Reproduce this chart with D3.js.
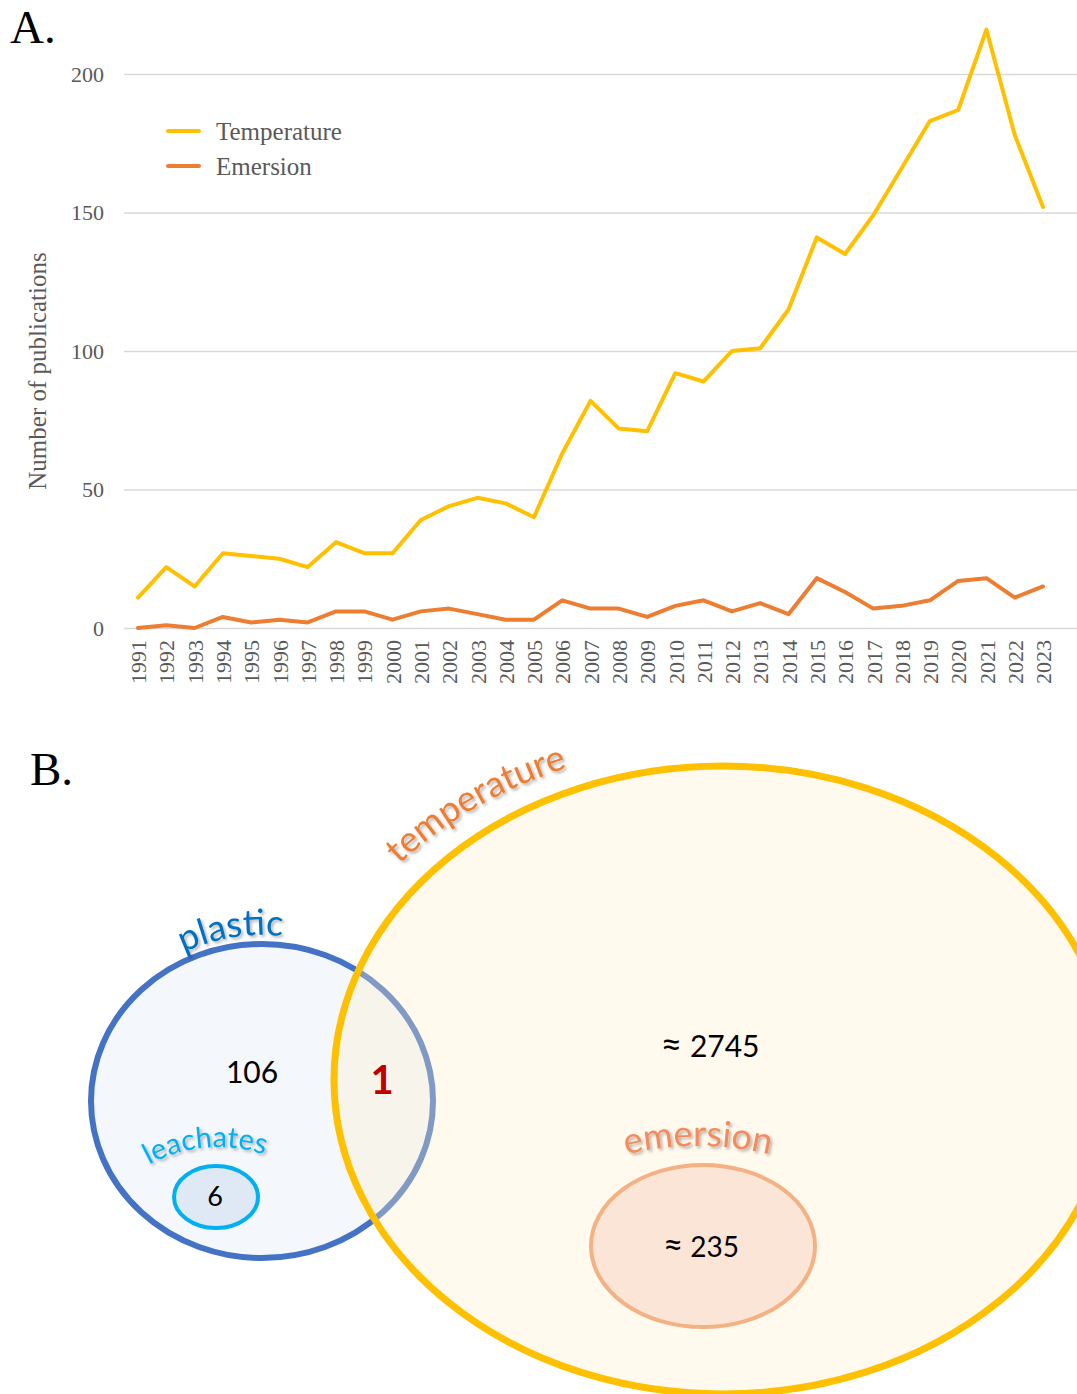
<!DOCTYPE html>
<meta charset="utf-8">
<head>
  <title>Publications and Venn</title>
</head>

<style>
body {
  margin: 0;
  background: #fff;
}
.axis text {
  font-family: "Liberation Serif", "Times New Roman", serif;
  fill: #595959;
}
.venn-num {
  font-family: Lato, "Open Sans", sans-serif;
}
</style>

<body>
  <div id="content"></div>

  <script src="https://cdnjs.cloudflare.com/ajax/libs/d3/7.8.5/d3.min.js"></script>

  <script>
var years = d3.range(1991, 2024);
var temperature = [11, 22, 15, 27, 26, 25, 22, 31, 27, 27, 39, 44, 47, 45, 40,
  63, 82, 72, 71, 92, 89, 100, 101, 115, 141, 135, 149, 166, 183, 187, 216, 178, 152];
var emersion = [0, 1, 0, 4, 2, 3, 2, 6, 6, 3, 6, 7, 5, 3, 3,
  10, 7, 7, 4, 8, 10, 6, 9, 5, 18, 13, 7, 8, 10, 17, 18, 11, 15];
var yTicks = [0, 50, 100, 150, 200];
var seriesNames = ['Temperature', 'Emersion'];
var seriesColors = ['#FFC000', '#ED7D31'];

// Venn panel
var vennSets = ['plastic', 'leachates', 'temperature', 'emersion'];
var vennCounts = ['106', '6', '2745', '235'];
var vennApprox = [false, false, true, true];
var vennOverlap = '1';

var width = 1077, height = 1394;

var svg = d3.select('#content').append('svg')
  .attr('width', width)
  .attr('height', height);

var defs = svg.append('defs');
var shadow = defs.append('filter').attr('id', 'shadow')
  .attr('x', '-20%').attr('y', '-40%').attr('width', '140%').attr('height', '180%');
shadow.append('feDropShadow')
  .attr('dx', 2).attr('dy', 2).attr('stdDeviation', 1.6)
  .attr('flood-color', '#000').attr('flood-opacity', 0.3);

// ---------- A. line chart ----------
var x = d3.scalePoint().domain(years).range([138, 1043]);
var y = d3.scaleLinear().domain([0, 200]).range([628, 74]);

svg.append('text')
  .attr('x', 10).attr('y', 43)
  .style('font-family', '"Liberation Serif", serif')
  .style('font-size', '47px')
  .text('A.');

var yAxis = svg.append('g')
  .attr('class', 'axis')
  .attr('transform', 'translate(124,0)')
  .call(d3.axisLeft(y).tickValues(yTicks).tickSize(-(width - 124)).tickPadding(20));
yAxis.select('.domain').remove();
yAxis.selectAll('line').attr('stroke', '#D9D9D9').attr('stroke-width', 1.5);
yAxis.selectAll('text').style('font-size', '22px');

var xAxis = svg.append('g')
  .attr('class', 'axis')
  .attr('transform', 'translate(0,628)')
  .call(d3.axisBottom(x).tickSize(0).tickFormat(d3.format('d')));
xAxis.select('.domain').remove();
xAxis.selectAll('text')
  .style('font-size', '22px')
  .attr('text-anchor', 'end')
  .attr('transform', 'rotate(-90)')
  .attr('x', -12)
  .attr('y', 0)
  .attr('dy', '0.35em');

svg.append('text')
  .attr('class', 'axis')
  .attr('transform', 'translate(37,371) rotate(-90)')
  .attr('text-anchor', 'middle')
  .attr('dy', '0.35em')
  .style('font-family', '"Liberation Serif", serif')
  .style('font-size', '25px')
  .style('fill', '#595959')
  .text('Number of publications');

var line = d3.line()
  .x(function(d, i) { return x(years[i]); })
  .y(function(d) { return y(d); });

[temperature, emersion].forEach(function(s, k) {
  svg.append('path')
    .datum(s)
    .attr('fill', 'none')
    .attr('stroke', seriesColors[k])
    .attr('stroke-width', 4)
    .attr('stroke-linejoin', 'round')
    .attr('stroke-linecap', 'round')
    .attr('d', line);
});

var legend = svg.append('g');
seriesNames.forEach(function(n, k) {
  var ly = 131 + k * 35;
  legend.append('line')
    .attr('x1', 168).attr('x2', 199)
    .attr('y1', ly).attr('y2', ly)
    .attr('stroke', seriesColors[k])
    .attr('stroke-width', 4)
    .attr('stroke-linecap', 'round');
  legend.append('text')
    .attr('x', 216).attr('y', ly)
    .attr('dy', '0.35em')
    .style('font-family', '"Liberation Serif", serif')
    .style('font-size', '25px')
    .style('fill', '#595959')
    .text(n);
});

// ---------- B. Venn diagram ----------
svg.append('text')
  .attr('x', 30).attr('y', 785)
  .style('font-family', '"Liberation Serif", serif')
  .style('font-size', '47px')
  .text('B.');

var venn = svg.append('g');

// plastic
venn.append('ellipse')
  .attr('cx', 262).attr('cy', 1101).attr('rx', 171).attr('ry', 157)
  .attr('fill', '#F4F7FC').attr('stroke', '#4472C4').attr('stroke-width', 6);

// leachates
venn.append('ellipse')
  .attr('cx', 216).attr('cy', 1197).attr('rx', 42).attr('ry', 31)
  .attr('fill', '#DEE9F5').attr('stroke', '#00B0F0').attr('stroke-width', 4);

// temperature
venn.append('ellipse')
  .attr('cx', 723).attr('cy', 1080).attr('rx', 389).attr('ry', 314)
  .attr('fill', 'rgba(255,240,200,0.32)').attr('stroke', '#FFC000').attr('stroke-width', 7);

// emersion
venn.append('ellipse')
  .attr('cx', 703).attr('cy', 1246).attr('rx', 112).attr('ry', 81)
  .attr('fill', '#FBE5D6').attr('stroke', '#F4B183').attr('stroke-width', 4);

// curved labels
function arcPath(cx, cy, rx, ry, a0, a1) {
  var pts = d3.range(0, 61).map(function(i) {
    var t = (a0 + (a1 - a0) * i / 60) * Math.PI / 180;
    return [cx + rx * Math.cos(t), cy - ry * Math.sin(t)];
  });
  return d3.line()(pts);
}

var labelArcs = [
  {name: vennSets[0], arc: [262, 1101, 175, 166, 130, 70], size: 36, color: '#0070C0'},
  {name: vennSets[1], arc: [218, 1290, 143, 143, 125, 65], size: 29, color: '#00B0F0'},
  {name: vennSets[2], arc: [723, 1080, 422, 336, 157, 97], size: 36, color: '#ED7D31'},
  {name: vennSets[3], arc: [698, 1456, 310, 310, 115, 65], size: 36, color: '#F38B5E'}
];

labelArcs.forEach(function(l, i) {
  defs.append('path')
    .attr('id', 'arc' + i)
    .attr('d', arcPath.apply(null, l.arc));
  venn.append('text')
    .style('font-family', 'Lato, "Open Sans", sans-serif')
    .style('font-size', l.size + 'px')
    .style('fill', l.color)
    .attr('filter', 'url(#shadow)')
    .append('textPath')
    .attr('href', '#arc' + i)
    .attr('startOffset', '50%')
    .attr('text-anchor', 'middle')
    .text(l.name);
});

var numPos = [[252, 1072, 30], [215, 1197, 27], [710, 1046, 30], [701, 1247, 28]];
vennCounts.forEach(function(c, i) {
  var t = venn.append('text')
    .attr('class', 'venn-num')
    .attr('x', numPos[i][0]).attr('y', numPos[i][1])
    .attr('dy', '0.35em')
    .attr('text-anchor', 'middle')
    .style('font-size', numPos[i][2] + 'px')
    .style('fill', '#000');
  if (vennApprox[i]) {
    t.append('tspan').style('font-size', '1.25em').text('≈');
    t.append('tspan').text(' ' + c);
  } else {
    t.text(c);
  }
});

venn.append('text')
  .attr('class', 'venn-num')
  .attr('x', 382).attr('y', 1080)
  .attr('dy', '0.35em')
  .attr('text-anchor', 'middle')
  .style('font-size', '40px')
  .style('font-weight', 'bold')
  .style('fill', '#C00000')
  .text(vennOverlap);
  </script>
</body>
</html>
